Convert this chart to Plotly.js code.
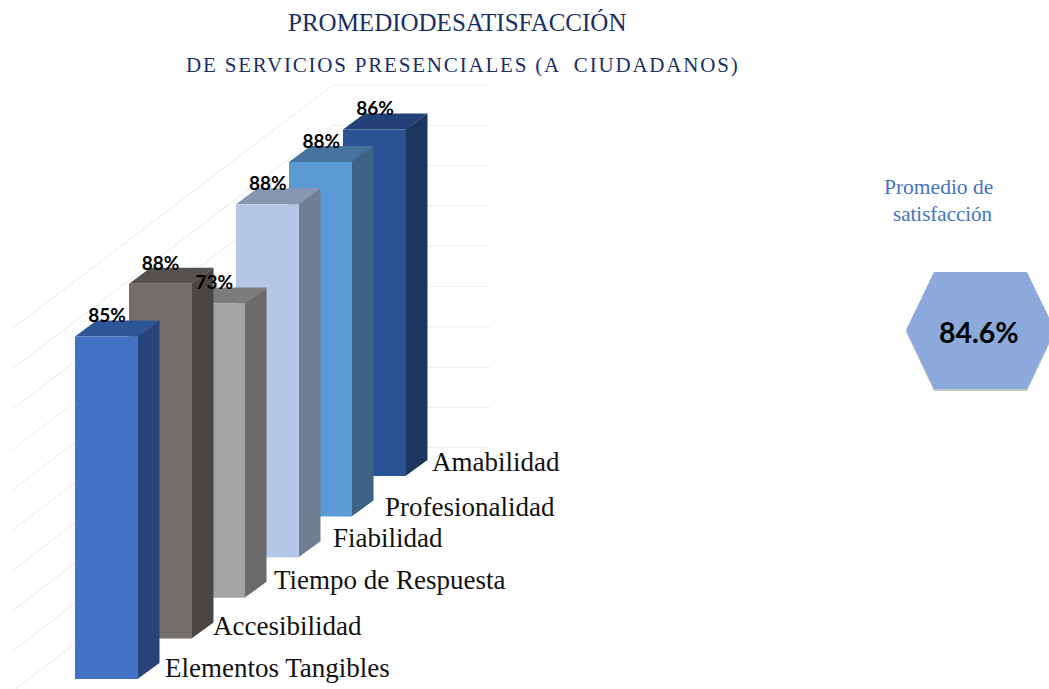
<!DOCTYPE html>
<html><head><meta charset="utf-8">
<script src="https://cdn.plot.ly/plotly-3.0.1.min.js"></script>
<style>html,body{margin:0;padding:0;background:#fff;overflow:hidden}#c{width:1049px;height:689px}</style>
</head><body><div id="c"></div>
<script>
// ---- data ----
const categories = ["Elementos Tangibles","Accesibilidad","Tiempo de Respuesta","Fiabilidad","Profesionalidad","Amabilidad"];
const values = [85, 88, 73, 87.6, 88, 86];
const gridTicks = [10,20,30,40,50,60,70,80,90,100];
const averageValue = 84.6;
const averageLabel = ["Promedio de","satisfacción"];
const titleLines = ["PROMEDIODESATISFACCIÓN","DE SERVICIOS PRESENCIALES (A  CIUDADANOS)"];

// ---- styles ----
const frontColors = ["#4472c4","#726e6c","#a5a5a5","#b4c7e7","#5b9bd5","#2a5294"];
const sideColors  = ["#264478","#4a4644","#6b6b6b","#717d92","#3c6384","#1d3660"];
const topColors   = ["#2f5597","#565250","#7c7c7c","#8897b0","#46739c","#234077"];
const gridColor = "#f0f0f0";
const serif = "Liberation Serif, serif";
const sans = "Lato, sans-serif";

// ---- projection: y axis is in percent units, depth is an oblique shift ----
const W = 1049, H = 689, PX = 4.03;
const u = px => px / PX;                  // pixels -> y units
const X0 = 75, STEP_X = 53.6, BAR_W = 63, DEPTH_X = 21.5;
const Y0 = u(H - 679), STEP_Y = u(40.6), DEPTH_Y = u(16);
const WALL_X = 333, WALL_LEFT = 12, WALL_RIGHT = 490, WALL_Y = u(H - 488);
const WALL_LEFT_DROP = (WALL_X - WALL_LEFT) * 0.76 / PX;
const LABEL_OFFSET = [[165,670],[213,628],[274,582],[333,540],[385,509],[432,464]];

const poly = (xs, ys, color, extra) => Object.assign({
  type:"scatter", mode:"lines", x:xs.concat(xs[0]), y:ys.concat(ys[0]), fill:"toself",
  fillcolor:color, line:{width:0, color:color}, hoverinfo:"skip", showlegend:false
}, extra||{});

const traces = [];

// gridlines
const gx = [], gy = [];
gridTicks.forEach(t => {
  const y = WALL_Y + t;
  gx.push(WALL_LEFT, WALL_X, WALL_RIGHT, null);
  gy.push(y - WALL_LEFT_DROP, y, y, null);
});
traces.push({type:"scatter", mode:"lines", x:gx, y:gy, line:{color:gridColor,width:1.2},
  hoverinfo:"skip", showlegend:false, connectgaps:false});

// bars, back to front
for (let i = values.length - 1; i >= 0; i--) {
  const l = Math.round(X0 + STEP_X*i), r = l + BAR_W, b = Y0 + STEP_Y*i, t = b + values[i];
  traces.push(poly([r-0.5, r+DEPTH_X, r+DEPTH_X, r-0.5],[b, b+DEPTH_Y, t+DEPTH_Y, t], sideColors[i]));
  traces.push(poly([l, r, r+DEPTH_X, l+DEPTH_X],[t, t, t+DEPTH_Y, t+DEPTH_Y], topColors[i]));
  traces.push(poly([l, r, r, l],[b, b, t, t], frontColors[i]));
}

// data labels
traces.push({type:"scatter", mode:"text",
  x: values.map((v,i) => X0 + STEP_X*i + 32),
  y: values.map((v,i) => Y0 + STEP_Y*i + v + u(19)),
  text: values.map(v => Math.round(v) + "%"),
  textposition:"middle center",
  textfont:{family:sans, size:19, color:"#000", weight:700},
  hoverinfo:"skip", showlegend:false, cliponaxis:false});

// category labels
traces.push({type:"scatter", mode:"text",
  x: LABEL_OFFSET.map(p => p[0]),
  y: LABEL_OFFSET.map(p => u(H - p[1])),
  text: categories, textposition:"middle right",
  textfont:{family:serif, size:27, color:"#111"},
  hoverinfo:"skip", showlegend:false, cliponaxis:false});

// average hexagon
const hexX = [906, 934, 1027, 1055, 1027, 934];
const hexY = [330, 272, 272, 330, 389, 389];
traces.push(poly(hexX, hexY.map(p => u(H - p - 2)), "rgba(90,90,90,0.35)"));
traces.push(poly(hexX, hexY.map(p => u(H - p)), "#8ba9da"));

const note = (x, y, text, size, color, family, anchor, weight) => ({
  x, y:u(H-y), xref:"x", yref:"y", text, showarrow:false, xanchor:anchor, yanchor:"middle",
  font:{family, size, color, weight:weight||400}
});

const annotations = [
  note(457, 22, titleLines[0], 25, "#1a2f66", serif, "center"),
  note(462.5, 65, titleLines[1], 21, "#1a2f66", serif, "center"),
  note(995, 187, averageLabel[0], 21.5, "#4472c4", serif, "right"),
  note(995, 214, averageLabel[1], 21, "#4472c4", serif, "right"),
  note(978.5, 332, averageValue.toFixed(1) + "%", 28.5, "#000", sans, "center", 700)
];

Plotly.newPlot("c", traces, {
  width:W, height:H, margin:{l:0,r:0,t:0,b:0}, paper_bgcolor:"#fff", plot_bgcolor:"#fff",
  showlegend:false,
  xaxis:{range:[0,W], visible:false, fixedrange:true},
  yaxis:{range:[0,u(H)], visible:false, fixedrange:true},
  annotations
}, {displayModeBar:false, staticPlot:true}).then(() => {
  const els = document.querySelectorAll(".annotation-text");
  if (els[1]) els[1].style.letterSpacing = "1.8px";
});
</script></body></html>
